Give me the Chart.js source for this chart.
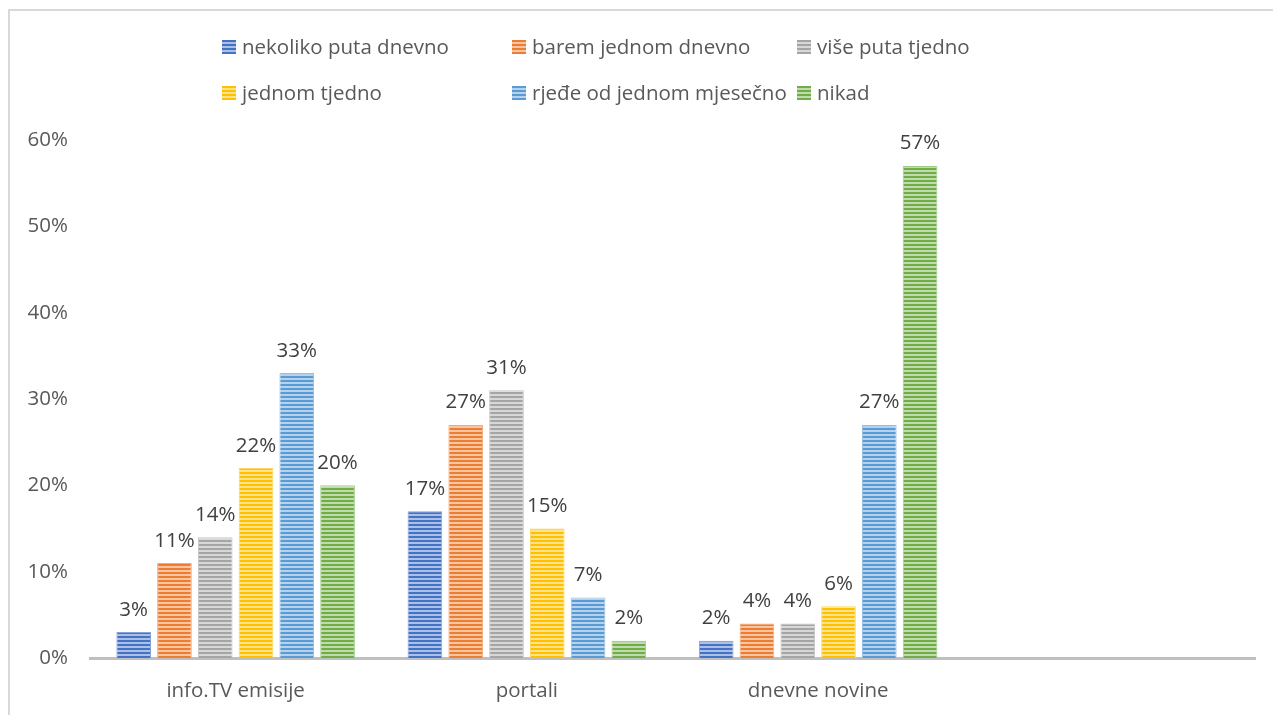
<!DOCTYPE html>
<html>
<head>
<meta charset="utf-8">
<script src="https://cdn.jsdelivr.net/npm/chart.js@4"></script>
<style>
  body { margin: 0; background: #fff; font-family: "Open Sans", sans-serif; }
  #wrap { position: relative; width: 1273px; height: 715px; overflow: hidden; }
  #frame { position: absolute; left: 8px; top: 9px; width: 1300px; height: 800px;
           border-left: 2px solid #d9d9d9; border-top: 2px solid #d9d9d9; }
  #legend { position: absolute; left: 222px; top: 32px; display: grid;
            grid-template-columns: 290px 285px 300px; row-gap: 17px;
            color: #595959; font-size: 20.5px; line-height: 29px; }
  #legend div { display: flex; align-items: center; white-space: nowrap; }
  #legend canvas { margin-right: 6px; }
</style>
</head>
<body>
<div id="wrap">
  <div id="frame"></div>
  <canvas id="chart" width="1273" height="715"></canvas>
  <div id="legend"></div>
</div>
<script>
// categories (last one is empty in the original)
const categories = ['info.TV emisije', 'portali', 'dnevne novine', ''];
const seriesNames = ['nekoliko puta dnevno', 'barem jednom dnevno', 'više puta tjedno',
                     'jednom tjedno', 'rjeđe od jednom mjesečno', 'nikad'];
// values in percent, per series across categories
const nekolikoPutaDnevno = [3, 17, 2, null];
const baremJednomDnevno = [11, 27, 4, null];
const viseputaTjedno = [14, 31, 4, null];
const jednomTjedno = [22, 15, 6, null];
const rjedeOdJednomMjesecno = [33, 7, 27, null];
const nikad = [20, 2, 57, null];
const yTicks = [0, 10, 20, 30, 40, 50, 60];

const seriesValues = [nekolikoPutaDnevno, baremJednomDnevno, viseputaTjedno,
                      jednomTjedno, rjedeOdJednomMjesecno, nikad];
const colors = ['#4472C4', '#ED7D31', '#A5A5A5', '#FFC000', '#5B9BD5', '#70AD47'];

function tint(hex, f) {
  const n = parseInt(hex.slice(1), 16);
  const r = (n >> 16) & 255, g = (n >> 8) & 255, b = n & 255;
  const m = c => Math.round(c + (255 - c) * f);
  return 'rgb(' + m(r) + ',' + m(g) + ',' + m(b) + ')';
}

// horizontal stripe fill like the original
function stripes(hex) {
  const c = document.createElement('canvas');
  c.width = 4; c.height = 4;
  const x = c.getContext('2d');
  x.fillStyle = tint(hex, 0.55);
  x.fillRect(0, 0, 4, 4);
  x.fillStyle = hex;
  x.fillRect(0, 0, 4, 2);
  return x.createPattern(c, 'repeat');
}

const ctx = document.getElementById('chart').getContext('2d');

const datasets = seriesNames.map((name, i) => ({
  label: name,
  data: seriesValues[i],
  backgroundColor: stripes(colors[i]),
  borderColor: tint(colors[i], 0.35),
  borderWidth: 1,
  barPercentage: 0.85,
  categoryPercentage: 0.84
}));

// value labels above bars
const valueLabels = {
  id: 'valueLabels',
  afterDatasetsDraw(chart) {
    const c = chart.ctx;
    c.save();
    c.font = '20.5px "Open Sans"';
    c.fillStyle = '#404040';
    c.textAlign = 'center';
    c.textBaseline = 'bottom';
    chart.data.datasets.forEach((ds, i) => {
      chart.getDatasetMeta(i).data.forEach((bar, j) => {
        if (ds.data[j] == null) return;
        c.fillText(ds.data[j] + '%', bar.x, bar.y - 12);
      });
    });
    c.restore();
  }
};

new Chart(ctx, {
  type: 'bar',
  data: { labels: categories, datasets: datasets },
  options: {
    responsive: false,
    animation: false,
    layout: { padding: { top: 140, right: 18, left: 0, bottom: 0 } },
    plugins: { legend: { display: false }, tooltip: { enabled: false } },
    scales: {
      x: {
        grid: { display: false, drawTicks: false },
        border: { color: '#bfbfbf', width: 3 },
        ticks: { color: '#595959', font: { family: 'Open Sans', size: 20.5 }, padding: 21 },
        afterFit(s) { s.height = 57; }
      },
      y: {
        min: 0, max: 60,
        grid: { display: false, drawTicks: false },
        border: { display: false },
        afterBuildTicks(s) { s.ticks = yTicks.map(v => ({ value: v })); },
        ticks: { color: '#595959', font: { family: 'Open Sans', size: 20.5 }, padding: 22,
                 callback: v => v + '%' },
        afterFit(s) { s.width = 90; }
      }
    }
  },
  plugins: [valueLabels]
});

// legend laid out in columns like the original
const legend = document.getElementById('legend');
seriesNames.forEach((name, i) => {
  const item = document.createElement('div');
  const sw = document.createElement('canvas');
  sw.width = 14; sw.height = 14;
  const sx = sw.getContext('2d');
  sx.fillStyle = stripes(colors[i]);
  sx.fillRect(0, 0, 14, 14);
  item.appendChild(sw);
  item.appendChild(document.createTextNode(name));
  legend.appendChild(item);
});
</script>
</body>
</html>
